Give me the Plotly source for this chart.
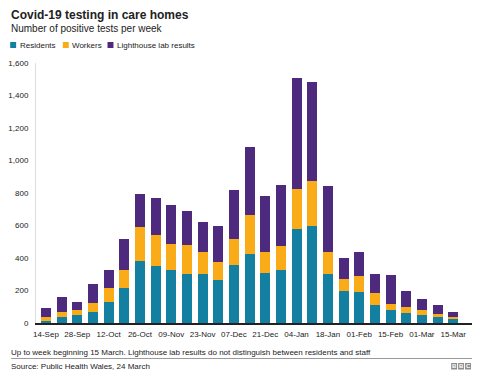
import plotly.graph_objects as go

weeks = ["14-Sep", "21-Sep", "28-Sep", "05-Oct", "12-Oct", "19-Oct", "26-Oct", "02-Nov",
         "09-Nov", "16-Nov", "23-Nov", "30-Nov", "07-Dec", "14-Dec", "21-Dec", "28-Dec",
         "04-Jan", "11-Jan", "18-Jan", "25-Jan", "01-Feb", "08-Feb", "15-Feb", "22-Feb",
         "01-Mar", "08-Mar", "15-Mar"]
residents = [14, 35, 47, 70, 131, 215, 381, 352, 327, 299, 303, 264, 356, 424, 305, 327,
             581, 595, 303, 198, 192, 113, 80, 61, 51, 39, 25]
workers = [21, 35, 33, 55, 82, 112, 208, 188, 160, 180, 133, 112, 160, 241, 131, 148,
           246, 277, 137, 72, 96, 69, 37, 35, 29, 18, 12]
lighthouse = [57, 90, 49, 114, 116, 187, 205, 231, 237, 213, 188, 219, 302, 419, 348, 374,
              683, 611, 403, 133, 148, 119, 178, 98, 67, 56, 31]
tick_labels = weeks[::2]
y_ticks = [0, 200, 400, 600, 800, 1000, 1200, 1400, 1600]

series_names = ["Residents", "Workers", "Lighthouse lab results"]
colors = ["#1380A1", "#FAAB18", "#4E2A7E"]
FONT = "Liberation Sans, Arial, sans-serif"

# page has an 8px body margin; figure sized to fit inside the window
OFF = 8
W, H = 464, 364
# plot area in page coords: x 33..472, y 63..323
L, R, T, B = 33 - OFF, W - (472 - OFF), 63 - OFF, H - (323 - OFF)
PW, PH = W - L - R, H - T - B


def px(x):  # page x -> paper
    return (x - OFF - L) / PW


def py(y):  # page y -> paper
    return (H - B - (y - OFF)) / PH


fig = go.Figure()
for name, vals, col in zip(series_names, [residents, workers, lighthouse], colors):
    fig.add_trace(go.Bar(x=weeks, y=vals, name=name, marker_color=col,
                         marker_line_width=0, showlegend=False))

shapes = []
annotations = []
TX = 6  # text left (accounting for annotation padding)

annotations.append(dict(text="<b>Covid-19 testing in care homes</b>", x=px(TX), y=py(15),
                        xref="paper", yref="paper", xanchor="left", yanchor="middle",
                        showarrow=False, font=dict(size=12, color="#222222", family=FONT)))
annotations.append(dict(text="Number of positive tests per week", x=px(TX), y=py(28),
                        xref="paper", yref="paper", xanchor="left", yanchor="middle",
                        showarrow=False, font=dict(size=10, color="#222222", family=FONT)))

leg_sq = [7, 60, 105]
for name, col, sx in zip(series_names, colors, leg_sq):
    shapes.append(dict(type="rect", xref="paper", yref="paper",
                       x0=px(sx), x1=px(sx + 6), y0=py(48), y1=py(42),
                       fillcolor=col, line=dict(width=0)))
    annotations.append(dict(text=name, x=px(sx + 7.5), y=py(45), xref="paper", yref="paper",
                            xanchor="left", yanchor="middle", showarrow=False,
                            font=dict(size=8, color="#222222", family=FONT)))

annotations.append(dict(text="Up to week beginning 15 March. Lighthouse lab results do not distinguish between residents and staff",
                        x=px(TX), y=py(352), xref="paper", yref="paper", xanchor="left",
                        yanchor="middle", showarrow=False,
                        font=dict(size=8, color="#222222", family=FONT)))
shapes.append(dict(type="line", xref="paper", yref="paper", x0=px(8), x1=px(472),
                   y0=py(358.5), y1=py(358.5), line=dict(color="#9a9a9a", width=1)))
annotations.append(dict(text="Source: Public Health Wales, 24 March",
                        x=px(TX), y=py(366), xref="paper", yref="paper", xanchor="left",
                        yanchor="middle", showarrow=False,
                        font=dict(size=8, color="#222222", family=FONT)))
for i, letter in enumerate("BBC"):
    x0 = 451 + i * 7
    shapes.append(dict(type="rect", xref="paper", yref="paper", x0=px(x0), x1=px(x0 + 6),
                       y0=py(369.5), y1=py(363), fillcolor="#8c8c8c", line=dict(width=0)))
    annotations.append(dict(text="<b>%s</b>" % letter, x=px(x0 + 3), y=py(366.3),
                            xref="paper", yref="paper", xanchor="center", yanchor="middle",
                            showarrow=False, font=dict(size=6, color="white", family=FONT)))

fig.update_layout(
    width=W, height=H,
    margin=dict(l=L, r=R, t=T, b=B, pad=0),
    barmode="stack",
    bargap=0.366,
    plot_bgcolor="white", paper_bgcolor="white",
    font=dict(family=FONT, size=8, color="#222222"),
    shapes=shapes, annotations=annotations,
    xaxis=dict(type="category", range=[-0.634, 27.2], tickmode="array",
               tickvals=tick_labels, ticktext=tick_labels, showgrid=False,
               showline=True, linecolor="#222222", linewidth=1.5,
               ticks="outside", ticklen=3, tickcolor="rgba(0,0,0,0)",
               tickfont=dict(size=8, color="#222222", family=FONT), zeroline=False),
    yaxis=dict(range=[0, 1600], tickmode="array", tickvals=y_ticks, tickformat=",d",
               showgrid=False, zeroline=False, showline=True, linecolor="#dddddd",
               linewidth=1, ticks="outside", ticklen=5, tickcolor="rgba(0,0,0,0)",
               tickfont=dict(size=8, color="#222222", family=FONT)),
)

fig.write_html("out.html")
